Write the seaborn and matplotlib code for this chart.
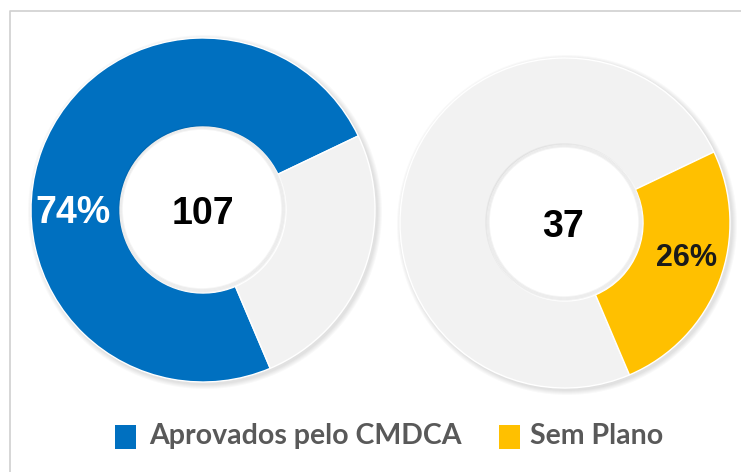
import matplotlib
matplotlib.use("Agg")
import matplotlib.pyplot as plt
import seaborn as sns
from matplotlib.patches import Circle, Rectangle
import numpy as np

# data
categories = ["Aprovados pelo CMDCA", "Sem Plano"]
counts = [107, 37]
highlight_colors = ["#0070C0", "#FFC000"]
rest_color = "#F2F2F2"

sns.set_theme(style="white")
plt.rcParams["font.family"] = ["Liberation Sans", "DejaVu Sans"]

W, H = 741, 472
fig = plt.figure(figsize=(W / 100, H / 100), dpi=100)
ax = fig.add_axes([0, 0, 1, 1])

# thin frame around the chart area
ax.plot([10, 10, W + 5], [-5, H - 11, H - 11], color="#d0d0d0", lw=1.2)

total = sum(counts)
pcts = [round(c / total * 100) for c in counts]

# donut geometry in pixels:
# (cx, cy from top, outer r, inner r, label angle, label dist, label size)
donuts = [
    (203, 210, 172, 83, 180, 130, 27),
    (565, 223, 165, 78, -14.9, 126, 22),
]


def baseline_text(x, y, s, size, **kw):
    # place text so that the digits' visual centre sits at (x, y)
    cap = size * 100 / 72 * 0.716
    ax.text(x, y - cap / 2, s, ha="center", va="baseline", fontsize=size,
            fontweight="bold", zorder=6, **kw)


for i, (cx, cy, r_out, r_in, lab_ang, lab_d, lab_size) in enumerate(donuts):
    cy = H - cy
    # soft shadow behind the ring
    for k in range(5, 0, -1):
        ax.add_patch(Circle((cx + 2, cy - 2), r_out + k, color="#000000",
                            alpha=0.025, lw=0, zorder=0.5))
    if i == 0:
        vals = counts
        cols = [highlight_colors[0], rest_color]
    else:
        vals = [counts[0], counts[1]]
        cols = [rest_color, highlight_colors[1]]
    wedges, _ = ax.pie(vals, colors=cols, center=(cx, cy), radius=r_out,
                       startangle=25.5, counterclock=True, frame=True,
                       wedgeprops=dict(width=r_out - r_in, edgecolor="white",
                                       linewidth=1))
    for w in wedges:
        w.set_zorder(2)
    # white hole with inner shadow
    ax.add_patch(Circle((cx, cy), r_in, color="white", lw=0, zorder=3))
    for k in range(4):
        ax.add_patch(Circle((cx - 1, cy + 1), r_in - k, fill=False,
                            edgecolor="#000000", alpha=0.045, lw=1.2, zorder=4))
    baseline_text(cx - 2 * i, cy - 1, str(counts[i]), 27, color="black")
    a = np.deg2rad(lab_ang)
    baseline_text(cx + lab_d * np.cos(a), cy + lab_d * np.sin(a), f"{pcts[i]}%",
                  lab_size, color="white" if i == 0 else "#1a1a1a")

ax.set_xlim(0, W)
ax.set_ylim(0, H)
ax.set_aspect("equal")
ax.axis("off")

# legend
leg_items = [(115, 149), (499, 530)]
for (sx, tx), lab, col in zip(leg_items, categories, highlight_colors):
    ax.add_patch(Rectangle((sx, H - 449), 21, 24, color=col, lw=0, zorder=6))
    ax.text(tx, H - 436, lab, ha="left", va="center", fontsize=20.5,
            family=["Lato", "DejaVu Sans"], fontweight="bold", color="#595959")

fig.savefig("out.png", dpi=100)
